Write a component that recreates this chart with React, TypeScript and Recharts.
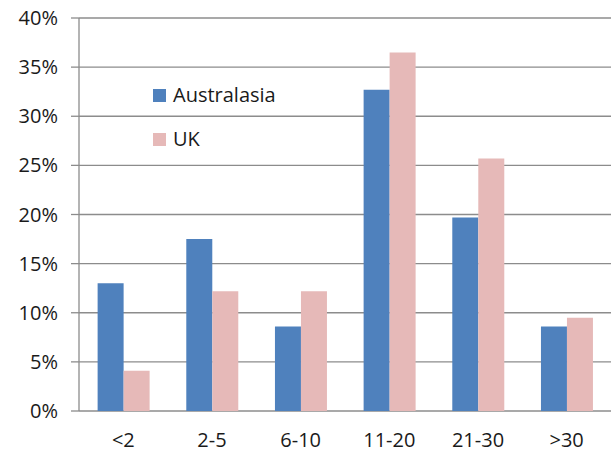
import React from "react";
import { BarChart, Bar, XAxis, YAxis, CartesianGrid, Legend } from "recharts";

const categories = ["<2", "2-5", "6-10", "11-20", "21-30", ">30"];
const australasia = [13.0, 17.5, 8.6, 32.7, 19.7, 8.6];
const uk = [4.1, 12.2, 12.2, 36.5, 25.7, 9.5];
const yTicks = [0, 5, 10, 15, 20, 25, 30, 35, 40];
const boundaryTicks = [0, 1, 2, 3, 4, 5, 6];

const BLUE = "#4f81bd";
const PINK = "#e6b9b8";
const GRID = "#8c8c8c";
const INK = "#1a1a1a";
const FONT = "'Open Sans', sans-serif";

const data = categories.map((c, i) => ({ cat: c, aus: australasia[i], uk: uk[i] }));

const legendItems = [
    { name: "Australasia", color: BLUE },
    { name: "UK", color: PINK },
];

// legend sits inside the plot, top-left, like the Excel original
function LegendBox() {
    return (
        <div style={{ fontFamily: FONT, fontSize: 20, color: INK, lineHeight: "44px" }}>
            {legendItems.map((it) => (
                <div key={it.name} style={{ display: "flex", alignItems: "center", height: 44 }}>
                    <span style={{ width: 13, height: 13, background: it.color, marginRight: 7, display: "inline-block" }} />
                    <span>{it.name}</span>
                </div>
            ))}
        </div>
    );
}

export default function App() {
    return (
        <div style={{ position: "absolute", left: 0, top: 0, background: "#fff" }}>
            <BarChart
                width={615}
                height={452}
                data={data}
                margin={{ top: 18, right: 4, left: 0, bottom: 0 }}
                barCategoryGap="21%"
                barGap={0}
            >
                <CartesianGrid vertical={false} stroke={GRID} strokeWidth={1.3} />
                <XAxis
                    dataKey="cat"
                    xAxisId="cat"
                    axisLine={false}
                    tickLine={false}
                    tickSize={0}
                    tick={{ fill: INK, fontSize: 20, fontFamily: FONT }}
                    tickMargin={22}
                    height={41}
                />
                <XAxis
                    xAxisId="edge"
                    type="number"
                    domain={[0, 6]}
                    ticks={boundaryTicks}
                    tick={false}
                    stroke={GRID}
                    strokeWidth={1.3}
                    tickSize={6}
                    height={0}
                />
                <YAxis
                    domain={[0, 40]}
                    ticks={yTicks}
                    tickFormatter={(v) => `${v}%`}
                    width={79}
                    stroke={GRID}
                    strokeWidth={1.3}
                    tickSize={8}
                    tickMargin={13}
                    tick={{ fill: INK, fontSize: 20, fontFamily: FONT }}
                />
                <Legend
                    layout="horizontal"
                    verticalAlign="middle"
                    align="center"
                    content={() => <LegendBox />}
                    wrapperStyle={{ left: 153, top: 73, width: 160 }}
                />
                <Bar xAxisId="cat" dataKey="aus" name="Australasia" fill={BLUE} isAnimationActive={false} />
                <Bar xAxisId="cat" dataKey="uk" name="UK" fill={PINK} isAnimationActive={false} />
            </BarChart>
        </div>
    );
}
